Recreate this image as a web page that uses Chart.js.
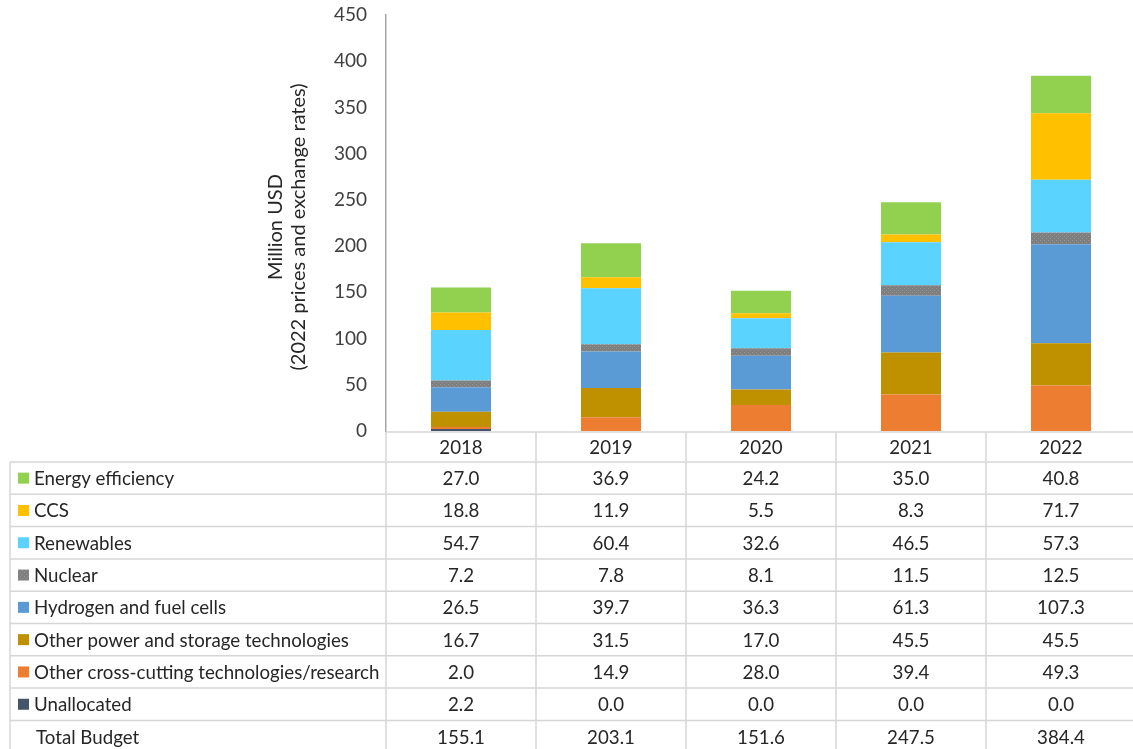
<!DOCTYPE html>
<html lang="en">
  <head>
    <meta charset="UTF-8" />
    <script src="https://cdn.jsdelivr.net/npm/chart.js@4/dist/chart.umd.min.js"></script>
    <title>Budget by technology</title>
    <style>
      html, body { margin: 0; padding: 0; background: #fff; overflow: hidden; }
    </style>
  </head>
  <body>
    <canvas id="chart" width="1136" height="749"></canvas>

    <script>
      // budget data (million USD)
      const years = ["2018", "2019", "2020", "2021", "2022"];
      const energyEfficiency = [27.0, 36.9, 24.2, 35.0, 40.8];
      const ccs = [18.8, 11.9, 5.5, 8.3, 71.7];
      const renewables = [54.7, 60.4, 32.6, 46.5, 57.3];
      const nuclear = [7.2, 7.8, 8.1, 11.5, 12.5];
      const hydrogen = [26.5, 39.7, 36.3, 61.3, 107.3];
      const otherPower = [16.7, 31.5, 17.0, 45.5, 45.5];
      const crossCutting = [2.0, 14.9, 28.0, 39.4, 49.3];
      const unallocated = [2.2, 0.0, 0.0, 0.0, 0.0];
      const totalBudget = [155.1, 203.1, 151.6, 247.5, 384.4];
      const yTicks = [0, 50, 100, 150, 200, 250, 300, 350, 400, 450];

      const FONT = "Lato, 'Open Sans', sans-serif";
      const TEXT = "#262626";

      // grey with small dots for nuclear
      function nuclearPattern() {
        const c = document.createElement("canvas");
        c.width = 4;
        c.height = 4;
        const g = c.getContext("2d");
        g.fillStyle = "#7f7f7f";
        g.fillRect(0, 0, 4, 4);
        g.fillStyle = "#969696";
        g.fillRect(0, 0, 1, 1);
        g.fillRect(2, 2, 1, 1);
        return g.createPattern(c, "repeat");
      }
      const nucFill = nuclearPattern();

      // table order top to bottom
      const series = [
        { label: "Energy efficiency", data: energyEfficiency, color: "#92d050" },
        { label: "CCS", data: ccs, color: "#ffc000" },
        { label: "Renewables", data: renewables, color: "#5bd3ff" },
        { label: "Nuclear", data: nuclear, color: nucFill },
        { label: "Hydrogen and fuel cells", data: hydrogen, color: "#5b9bd5" },
        { label: "Other power and storage technologies", data: otherPower, color: "#bf9000" },
        { label: "Other cross-cutting technologies/research", data: crossCutting, color: "#ed7d31" },
        { label: "Unallocated", data: unallocated, color: "#44546a" },
      ];

      // draws the data table under the bars
      const dataTable = {
        id: "dataTable",
        afterDraw(chart) {
          const ctx = chart.ctx;
          const x = chart.scales.x;
          const area = chart.chartArea;
          const half = (x.getPixelForValue(1) - x.getPixelForValue(0)) / 2;
          const left = 10;
          const headTop = area.bottom + 1;
          const rowTop = 462;
          const rowH = 32.3;
          const rows = series.map((s) => ({ label: s.label, data: s.data, color: s.color }));
          rows.push({ label: "Total Budget", data: totalBudget, color: null });
          const right = x.getPixelForValue(years.length - 1) + half + 5;
          const bottom = rowTop + rowH * rows.length;

          ctx.save();
          ctx.strokeStyle = "#d6d6d6";
          ctx.lineWidth = 1.5;
          ctx.beginPath();
          // header row
          ctx.moveTo(area.left, headTop);
          ctx.lineTo(right, headTop);
          for (let r = 0; r <= rows.length; r++) {
            const y = rowTop + rowH * r;
            ctx.moveTo(left, y);
            ctx.lineTo(right, y);
          }
          ctx.moveTo(left, rowTop);
          ctx.lineTo(left, bottom);
          for (let i = 0; i < years.length; i++) {
            const cx = x.getPixelForValue(i) - half;
            ctx.moveTo(cx, headTop);
            ctx.lineTo(cx, bottom);
          }
          ctx.stroke();

          ctx.font = "18.7px " + FONT;
          ctx.fillStyle = TEXT;
          ctx.textBaseline = "middle";
          ctx.textAlign = "center";
          years.forEach((yr, i) => {
            ctx.fillText(yr, x.getPixelForValue(i), (headTop + rowTop) / 2 + 1);
          });

          rows.forEach((row, r) => {
            const cy = rowTop + rowH * r + rowH / 2 + 1;
            if (row.color) {
              ctx.fillStyle = row.color;
              ctx.fillRect(18, cy - 6.5, 11, 11);
            }
            ctx.fillStyle = TEXT;
            ctx.textAlign = "left";
            ctx.fillText(row.label, row.color ? 34 : 36, cy);
            ctx.textAlign = "center";
            row.data.forEach((v, i) => {
              ctx.fillText(v.toFixed(1), x.getPixelForValue(i), cy);
            });
          });

          // axis title
          ctx.font = "20px " + FONT;
          ctx.translate(287, 227);
          ctx.rotate(-Math.PI / 2);
          ctx.fillStyle = TEXT;
          ctx.textAlign = "center";
          ctx.fillText("Million USD", 0, -11.5);
          ctx.fillText("(2022 prices and exchange rates)", 0, 11.5);
          ctx.restore();
        },
      };

      // stack from the bottom up
      const datasets = series
        .slice()
        .reverse()
        .map((s) => ({
          label: s.label,
          data: s.data,
          backgroundColor: s.color,
          borderWidth: 0,
          barPercentage: 0.4,
          categoryPercentage: 1.0,
        }));

      const ctx = document.getElementById("chart").getContext("2d");
      const myChart = new Chart(ctx, {
        type: "bar",
        data: { labels: years, datasets: datasets },
        options: {
          responsive: false,
          animation: false,
          layout: { padding: { left: 0, right: 0, top: 15, bottom: 318 } },
          plugins: {
            legend: { display: false },
            tooltip: { enabled: false },
          },
          scales: {
            x: {
              stacked: true,
              display: false,
            },
            y: {
              stacked: true,
              min: 0,
              max: 450,
              afterBuildTicks: (s) => {
                s.ticks = yTicks.map((v) => ({ value: v }));
              },
              afterFit: (s) => {
                s.width = 386;
              },
              // labels sit 19px left of the axis line
              grid: { display: false, drawTicks: true, tickLength: 17 },
              border: { display: true, color: "#a6a6a6", width: 1.5 },
              ticks: {
                padding: 2,
                color: "#404040",
                font: { family: FONT, size: 19 },
              },
            },
          },
        },
        plugins: [dataTable],
      });
    </script>
  </body>
</html>
